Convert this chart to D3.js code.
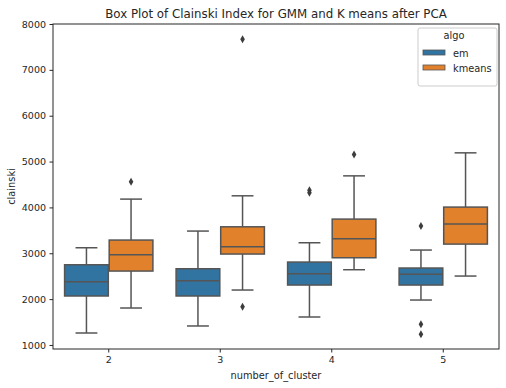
<!DOCTYPE html>
<html>
<head>
<meta charset="utf-8">
<script src="https://cdn.jsdelivr.net/npm/d3@7"></script>
<style>
  body { margin: 0; background: #fff; }
  svg { font-family: "DejaVu Sans", sans-serif; }
</style>
</head>
<body>
<svg id="chart" width="506" height="388"></svg>
<script>
// Data
const clusters = ['2', '3', '4', '5'];
const algos = ['em', 'kmeans'];
const colors = ['#3274a1', '#e1812c'];

// box stats per algo, one entry per cluster
const emLow    = [1261, 1414, 1610, 1980];
const emQ1     = [2068, 2068, 2307, 2307];
const emMedian = [2379, 2401, 2553, 2540];
const emQ3     = [2749, 2662, 2808, 2678];
const emHigh   = [3120, 3484, 3229, 3070];
const emOutliers = [[], [], [4320, 4375], [3593, 1451, 1233]];

const kmLow    = [1806, 2198, 2641, 2503];
const kmQ1     = [2612, 2983, 2902, 3200];
const kmMedian = [2967, 3142, 3316, 3636];
const kmQ3     = [3288, 3577, 3745, 4007];
const kmHigh   = [4181, 4253, 4688, 5190];
const kmOutliers = [[4558], [7667, 1834], [5155], []];

const yTicks = [1000, 2000, 3000, 4000, 5000, 6000, 7000, 8000];

const boxes = [];
clusters.forEach((c, i) => {
  boxes.push({ cluster: c, algo: 'em', low: emLow[i], q1: emQ1[i], med: emMedian[i], q3: emQ3[i], high: emHigh[i], out: emOutliers[i] });
  boxes.push({ cluster: c, algo: 'kmeans', low: kmLow[i], q1: kmQ1[i], med: kmMedian[i], q3: kmQ3[i], high: kmHigh[i], out: kmOutliers[i] });
});

const svg = d3.select('#chart');
const margin = { top: 24, right: 7, bottom: 39, left: 53 };
const width = 506, height = 388;
const innerWidth = width - margin.left - margin.right;
const innerHeight = height - margin.top - margin.bottom;

const x = d3.scaleBand().domain(clusters).range([0, innerWidth]).padding(0);
const hue = d3.scaleBand().domain(algos).range([0, x.bandwidth() * 0.8]).padding(0);
const y = d3.scaleLinear().domain([912, 8000]).range([innerHeight, 0]);
const fill = d3.scaleOrdinal().domain(algos).range(colors);

const g = svg.append('g').attr('transform', `translate(${margin.left},${margin.top})`);
const lineColor = '#555';

// Axes
const xAxis = g.append('g')
  .attr('transform', `translate(0,${innerHeight})`)
  .call(d3.axisBottom(x).tickSize(3.5).tickPadding(3.5));
const yAxis = g.append('g')
  .call(d3.axisLeft(y).tickValues(yTicks).tickFormat(d3.format('d')).tickSize(3.5).tickPadding(3.5));
[xAxis, yAxis].forEach(a => {
  a.select('.domain').remove();
  a.selectAll('text').attr('font-size', 9.5).attr('fill', '#262626').attr('font-family', 'DejaVu Sans');
  a.selectAll('line').attr('stroke', '#262626');
});

// Boxes
const bw = hue.bandwidth() * 0.98;
const cap = bw * 0.5;
const grp = g.selectAll('.box').data(boxes).join('g')
  .attr('transform', d => `translate(${x(d.cluster) + x.bandwidth() * 0.1 + hue(d.algo) + hue.bandwidth() / 2},0)`);

grp.append('line')
  .attr('y1', d => y(d.q3)).attr('y2', d => y(d.high))
  .attr('stroke', lineColor).attr('stroke-width', 1.5);
grp.append('line')
  .attr('y1', d => y(d.q1)).attr('y2', d => y(d.low))
  .attr('stroke', lineColor).attr('stroke-width', 1.5);
grp.append('line')
  .attr('x1', -cap / 2).attr('x2', cap / 2)
  .attr('y1', d => y(d.high)).attr('y2', d => y(d.high))
  .attr('stroke', lineColor).attr('stroke-width', 1.5);
grp.append('line')
  .attr('x1', -cap / 2).attr('x2', cap / 2)
  .attr('y1', d => y(d.low)).attr('y2', d => y(d.low))
  .attr('stroke', lineColor).attr('stroke-width', 1.5);
grp.append('rect')
  .attr('x', -bw / 2).attr('width', bw)
  .attr('y', d => y(d.q3)).attr('height', d => y(d.q1) - y(d.q3))
  .attr('fill', d => fill(d.algo))
  .attr('stroke', lineColor).attr('stroke-width', 1.5);
grp.append('line')
  .attr('x1', -bw / 2).attr('x2', bw / 2)
  .attr('y1', d => y(d.med)).attr('y2', d => y(d.med))
  .attr('stroke', lineColor).attr('stroke-width', 1.5);

// Outliers (thin diamonds)
grp.selectAll('path.flier').data(d => d.out).join('path')
  .attr('class', 'flier')
  .attr('d', v => `M0,${y(v) - 4} L2.3,${y(v)} L0,${y(v) + 4} L-2.3,${y(v)} Z`)
  .attr('fill', '#3d3d3d');

// Frame
g.append('rect')
  .attr('width', innerWidth).attr('height', innerHeight)
  .attr('fill', 'none').attr('stroke', '#262626').attr('stroke-width', 1);

// Labels
svg.append('text')
  .attr('x', margin.left + innerWidth / 2).attr('y', 18)
  .attr('text-anchor', 'middle').attr('font-size', 11.8).attr('fill', '#262626')
  .text('Box Plot of Clainski Index for GMM and K means after PCA');
svg.append('text')
  .attr('x', margin.left + innerWidth / 2).attr('y', 379)
  .attr('text-anchor', 'middle').attr('font-size', 9.8).attr('fill', '#262626')
  .text('number_of_cluster');
svg.append('text')
  .attr('transform', `translate(15,${margin.top + innerHeight / 2}) rotate(-90)`)
  .attr('text-anchor', 'middle').attr('font-size', 9.8).attr('fill', '#262626')
  .text('clainski');

// Legend
const lg = svg.append('g').attr('transform', 'translate(418,28)');
lg.append('rect')
  .attr('width', 79).attr('height', 58).attr('rx', 2)
  .attr('fill', '#fff').attr('fill-opacity', 0.8)
  .attr('stroke', '#ccc').attr('stroke-width', 1);
lg.append('text')
  .attr('x', 36).attr('y', 11)
  .attr('text-anchor', 'middle').attr('font-size', 9.8).attr('fill', '#262626')
  .text('algo');
algos.forEach((a, i) => {
  const row = lg.append('g').attr('transform', `translate(5,${22 + i * 15})`);
  row.append('rect')
    .attr('width', 22).attr('height', 5)
    .attr('fill', fill(a)).attr('stroke', lineColor).attr('stroke-width', 0.8);
  row.append('text')
    .attr('x', 30).attr('y', 6.5)
    .attr('font-size', 9.8).attr('fill', '#262626')
    .text(a);
});
</script>
</body>
</html>
